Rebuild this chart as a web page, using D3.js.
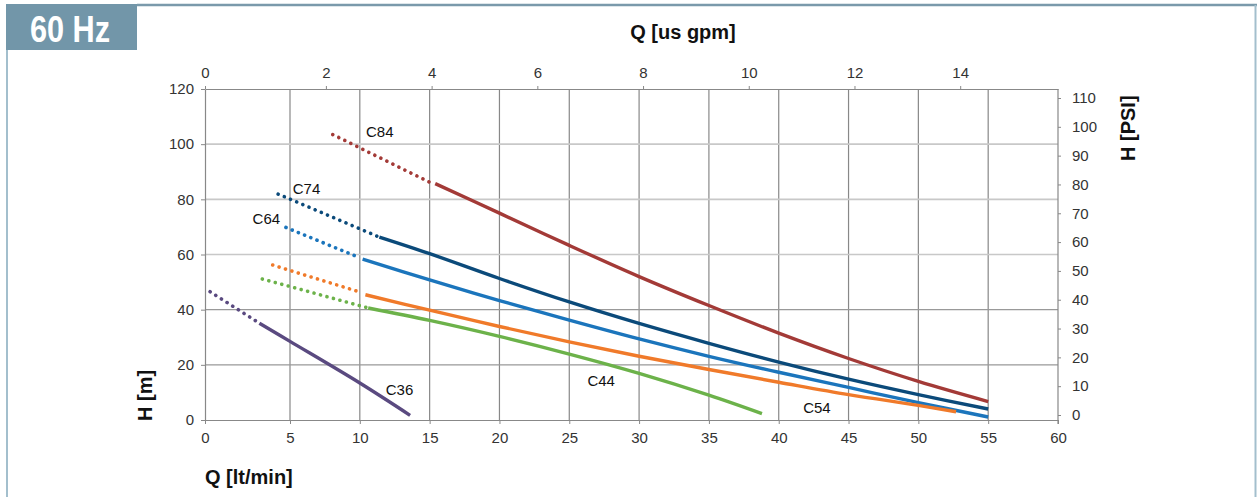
<!DOCTYPE html>
<html>
<head>
<meta charset="utf-8">
<script src="https://cdn.jsdelivr.net/npm/d3@7"></script>
<style>
body { margin:0; background:#fff; }
svg { display:block; }
.tick text { font-family:"Liberation Sans", Arial, sans-serif; font-size:15px; fill:#333; }
</style>
</head>
<body>
<script>
// tick values
var q_ticks = [0,5,10,15,20,25,30,35,40,45,50,55,60];
var gpm_ticks = [0,2,4,6,8,10,12,14];
var h_ticks = [0,20,40,60,80,100,120];
var psi_ticks = [0,10,20,30,40,50,60,70,80,90,100,110];

// curves: [Q lt/min, H m]
var names = ["C84","C74","C64","C54","C44","C36"];
var colors = ["#a33a37","#0b4a7a","#1b75bc","#f07a2a","#6cb24a","#5a4a80"];

var dotted_C84 = [[8.06,103.5],[15.0,86.2]];
var solid_C84 = [[15.4,85.7],[20,75.0],[25,63.3],[30,52.0],[35,41.5],[40,31.5],[45,22.3],[50,14.0],[55,6.7]];
var dotted_C74 = [[4.3,81.9],[5,80.1],[11.4,66.3]];
var solid_C74 = [[11.4,66.3],[15,60.3],[20,51.3],[25,42.8],[30,35.0],[35,27.8],[40,21.0],[45,14.8],[50,9.2],[55,4.0]];
var dotted_C64 = [[4.76,69.8],[5,69.2],[10,58.8]];
var solid_C64 = [[10.2,58.3],[15,50.8],[20,43.3],[25,36.2],[30,29.4],[35,23.1],[40,17.3],[45,11.8],[50,6.3],[55,1.1]];
var dotted_C54 = [[3.98,56.2],[5,54.2],[10,46.4]];
var solid_C54 = [[10.4,45.4],[15,39.8],[20,33.9],[25,28.3],[30,23.1],[35,18.3],[40,13.7],[45,9.2],[50,5.3],[52.7,3.0]];
var dotted_C44 = [[3.37,51.1],[5,48.4],[10.6,40.6]];
var solid_C44 = [[10.6,40.6],[15,36.1],[20,30.3],[25,23.9],[30,16.9],[35,9.0],[38.8,2.3]];
var dotted_C36 = [[0.3,46.5],[3.2,35.1]];
var solid_C36 = [[3.2,35.1],[5,28.5],[10,13.4],[13.6,1.7]];

// label anchors [Q, H]
var label_pos = [[10.44,102.6],[5.2,82.0],[2.8,71.0],[41.75,2.5],[26.3,12.2],[11.86,9.1]];

var dotted = [dotted_C84,dotted_C74,dotted_C64,dotted_C54,dotted_C44,dotted_C36];
var solid = [solid_C84,solid_C74,solid_C64,solid_C54,solid_C44,solid_C36];

var W = 1257, H = 497;
var svg = d3.select("body").append("svg").attr("width",W).attr("height",H);

// frame
svg.append("line").attr("x1",7).attr("x2",7).attr("y1",50).attr("y2",H)
   .attr("stroke","#a3bfcd").attr("stroke-width",2);
svg.append("line").attr("x1",137).attr("x2",W).attr("y1",5).attr("y2",5)
   .attr("stroke","#7a9aab").attr("stroke-width",2.5);
svg.append("line").attr("x1",1255.5).attr("x2",1255.5).attr("y1",5).attr("y2",H)
   .attr("stroke","#a3bfcd").attr("stroke-width",2);
svg.append("rect").attr("x",6).attr("y",4).attr("width",131).attr("height",46)
   .attr("fill","#7296a9");
svg.append("text").attr("transform","translate(70,42) scale(0.83,1)")
   .attr("text-anchor","middle")
   .attr("font-family","'Liberation Sans', Arial, sans-serif")
   .attr("font-weight","bold").attr("font-size",37).attr("fill","#fff")
   .text("60 Hz");

var x_scale = d3.scaleLinear().domain([0,5,60]).range([205,290,1058]);
var gpm_scale = d3.scaleLinear().domain([0,5/3.7854,60/3.7854]).range([205,290,1058]);
var y_scale = d3.scaleLinear().domain([0,120]).range([420,89]);
var psi_scale = d3.scaleLinear().domain([0,110]).range([415,98]);

// grid
svg.append("g").selectAll("line").data(q_ticks.slice(1,-1)).enter().append("line")
   .attr("x1",function(d){ return x_scale(d); })
   .attr("x2",function(d){ return x_scale(d); })
   .attr("y1",y_scale(120)).attr("y2",y_scale(0))
   .attr("stroke","#888").attr("stroke-width",1.2);
svg.append("g").selectAll("line").data(h_ticks.slice(1,-1)).enter().append("line")
   .attr("x1",x_scale(0)).attr("x2",x_scale(60))
   .attr("y1",function(d){ return y_scale(d); })
   .attr("y2",function(d){ return y_scale(d); })
   .attr("stroke",function(d){ return d >= 60 ? "#c8c8c8" : "#999"; })
   .attr("stroke-width",function(d){ return d >= 60 ? 1.6 : 1.2; });

// axes
function styleAxis(g){
    g.selectAll(".domain").attr("stroke","#888").attr("stroke-width",1.2);
    g.selectAll(".tick line").attr("stroke","#888");
}
svg.append("g").attr("transform","translate(0,"+y_scale(0)+")")
   .call(d3.axisBottom(x_scale).tickValues(q_ticks).tickSize(4).tickPadding(8).tickSizeOuter(0))
   .call(styleAxis);
svg.append("g").attr("transform","translate(0,"+y_scale(120)+")")
   .call(d3.axisTop(gpm_scale).tickValues(gpm_ticks).tickSize(3).tickPadding(8).tickSizeOuter(0))
   .call(styleAxis);
svg.append("g").attr("transform","translate("+x_scale(0)+",0)")
   .call(d3.axisLeft(y_scale).tickValues(h_ticks).tickSize(4).tickPadding(7).tickSizeOuter(0))
   .call(styleAxis);
svg.append("line").attr("x1",x_scale(60)).attr("x2",x_scale(60))
   .attr("y1",y_scale(120)).attr("y2",y_scale(0)+4)
   .attr("stroke","#888").attr("stroke-width",1.2);
var psi_g = svg.append("g").attr("transform","translate("+x_scale(60)+",0)")
   .call(d3.axisRight(psi_scale).tickValues(psi_ticks).tickSize(3).tickPadding(11).tickSizeOuter(0))
   .call(styleAxis);
psi_g.select(".domain").remove();

// axis titles
function title(x,y,rot,txt,anchor){
    svg.append("text").attr("transform","translate("+x+","+y+") rotate("+rot+")")
       .attr("text-anchor",anchor)
       .attr("font-family","'Liberation Sans', Arial, sans-serif")
       .attr("font-weight","bold").attr("font-size",20).attr("fill","#111")
       .text(txt);
}
title(683,39,0,"Q [us gpm]","middle");
title(205,484,0,"Q [lt/min]","start");
title(152,421,-90,"H [m]","start");
title(1135,161,-90,"H [PSI]","start");

// curves
var line = d3.line()
    .x(function(d){ return x_scale(d[0]); })
    .y(function(d){ return y_scale(d[1]); });
var smooth = d3.line().curve(d3.curveCatmullRom.alpha(0.5))
    .x(function(d){ return x_scale(d[0]); })
    .y(function(d){ return y_scale(d[1]); });

names.forEach(function(n,i){
    svg.append("path").attr("d",line(dotted[i]))
       .attr("fill","none").attr("stroke",colors[i]).attr("stroke-width",3.6)
       .attr("stroke-linecap","round").attr("stroke-dasharray","0.1 6.6");
    svg.append("path").attr("d",smooth(solid[i]))
       .attr("fill","none").attr("stroke",colors[i]).attr("stroke-width",3.4)
       .attr("stroke-linecap","butt");
    svg.append("text")
       .attr("x",x_scale(label_pos[i][0])).attr("y",y_scale(label_pos[i][1]))
       .attr("font-family","'Liberation Sans', Arial, sans-serif")
       .attr("font-size",15).attr("fill","#111")
       .text(n);
});
</script>
</body>
</html>
